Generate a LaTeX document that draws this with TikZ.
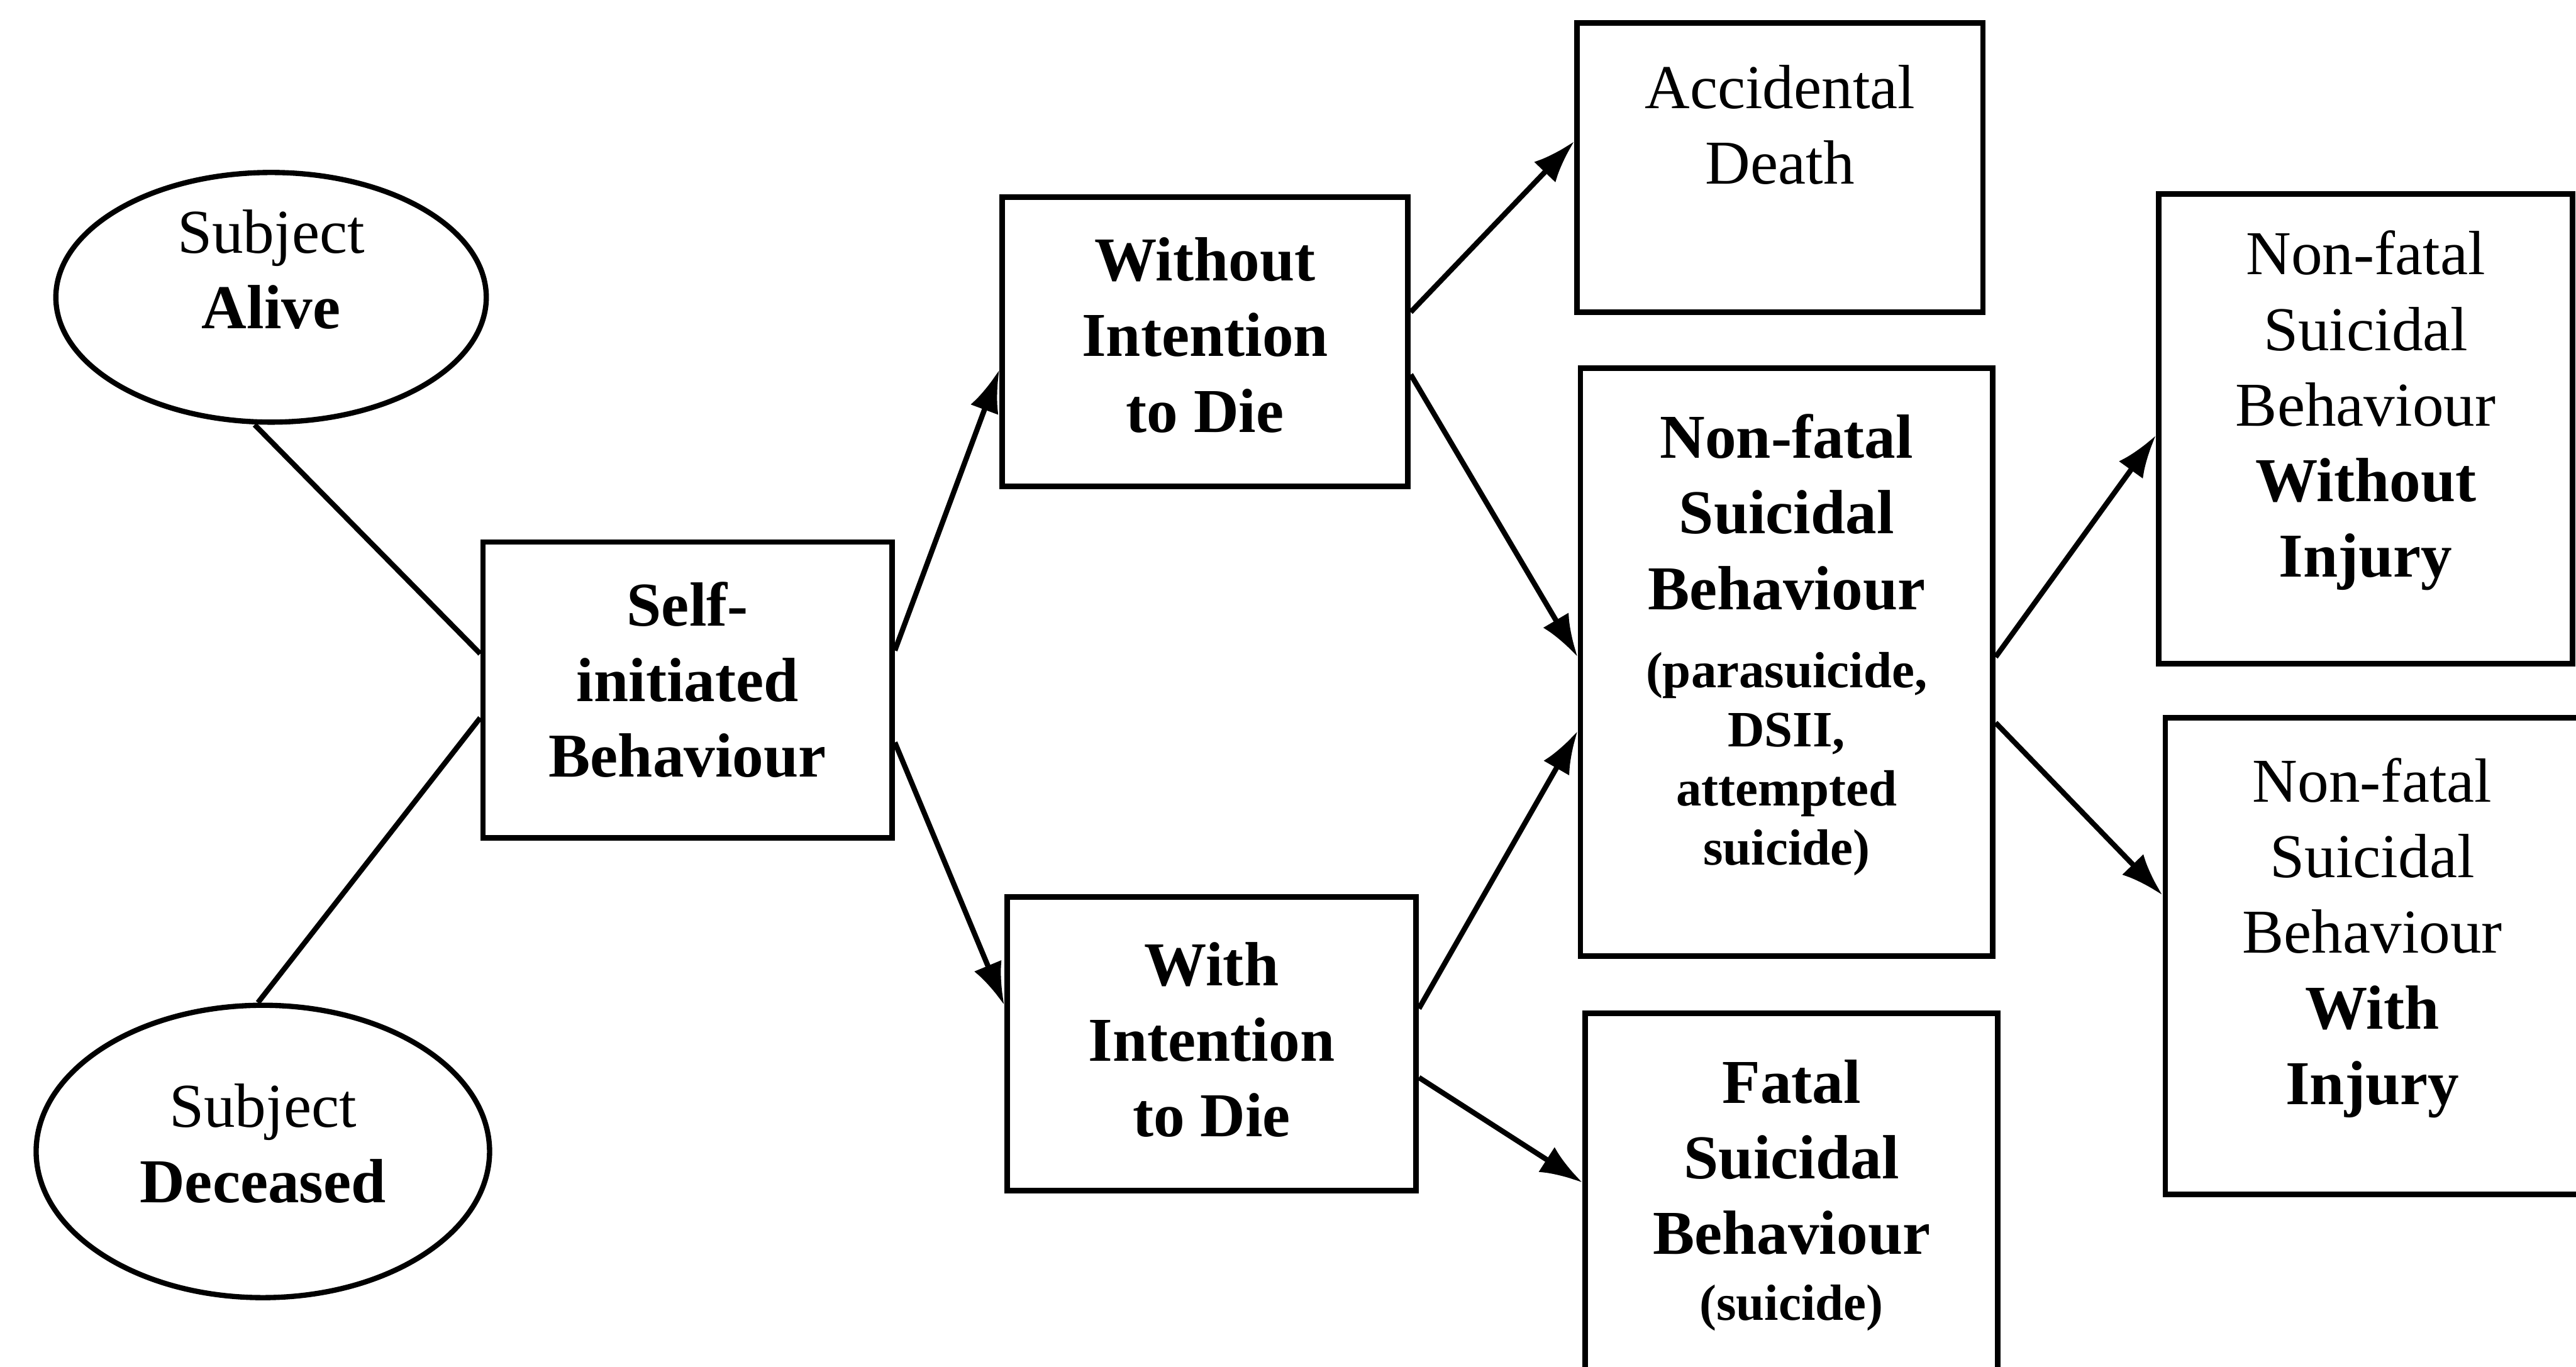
\documentclass[tikz,border=0pt]{standalone}
\usepackage{fontspec}
\setmainfont{Liberation Serif}
\usetikzlibrary{shapes.geometric,arrows.meta,calc}

\begin{document}
\begin{tikzpicture}[x=1pt,y=-1pt,
  every node/.style={align=center,inner sep=0pt,font=\fontsize{38}{46}\selectfont},
  oval/.style={draw,ellipse,line width=3.2pt},
  box/.style={draw,rectangle,line width=3.4pt},
  big/.style={font=\fontsize{38}{46}\selectfont\bfseries},
  small/.style={font=\fontsize{31}{36}\selectfont\bfseries},
  link/.style={line width=3.2pt},
  arr/.style={line width=3.2pt,-{Latex[length=26pt,width=18pt]}}]

\useasboundingbox (0,0) rectangle (1568,832);
\clip (0,0) rectangle (1568,832);

% ellipses on the left
\node[oval,minimum width=262pt,minimum height=152pt] (alive) at (165,181) {};
\node (alivetext) at (165,164) {Subject\\\textbf{Alive}};
\node[oval,minimum width=276pt,minimum height=178pt] (dead) at (160,701) {};
\node (deadtext) at (160,696) {Subject\\\textbf{Deceased}};

% boxes, with their texts set separately
\node[box,minimum width=249pt,minimum height=180pt] (self) at (418.5,420) {};
\node[big] (selftext) at (418.5,414) {Self-\\initiated\\Behaviour};

\node[box,minimum width=247pt,minimum height=176pt] (without) at (733.5,208) {};
\node[big] (withouttext) at (733.5,204) {Without\\Intention\\to Die};

\node[box,minimum width=249pt,minimum height=179pt] (with) at (737.5,635.5) {};
\node[big] (withtext) at (737.5,633) {With\\Intention\\to Die};

\node[box,minimum width=247pt,minimum height=176pt] (acc) at (1083.5,102) {};
\node (acctext) at (1083.5,76) {Accidental\\Death};

\node[box,minimum width=251pt,minimum height=358pt] (nfc) at (1087.5,403) {};
\node[big,anchor=north] (nfctop) at (1087.5,252) {Non-fatal\\Suicidal\\Behaviour};
\node[small,anchor=north] (nfcbottom) at (1087.5,397)
  {(parasuicide,\\DSII,\\attempted\\suicide)};

\node[box,minimum width=251pt,minimum height=250pt] (fatal) at (1090.5,742) {};
\node[big,anchor=north] (fataltop) at (1090.5,645) {Fatal\\Suicidal\\Behaviour};
\node[small,anchor=north] (fatalbottom) at (1090.5,782) {(suicide)};

\node[box,minimum width=252pt,minimum height=286pt] (nfw) at (1440,261) {};
\node (nfwtext) at (1440,250)
  {Non-fatal\\Suicidal\\Behaviour\\\textbf{Without}\\\textbf{Injury}};

\node[box,minimum width=252pt,minimum height=290pt] (nfi) at (1444,582) {};
\node (nfitext) at (1444,571)
  {Non-fatal\\Suicidal\\Behaviour\\\textbf{With}\\\textbf{Injury}};

% plain links into the first box
\draw[link] ($(alive.south)+(-10,0)$) -- ($(self.west)+(0,-22)$);
\draw[link] ($(dead.north)+(-3,0)$) -- ($(self.west)+(0,17)$);

% arrows
\draw[arr] ($(self.east)+(0,-24)$) -- ($(without.west)+(0,17)$);
\draw[arr] ($(self.east)+(0,32)$) -- ($(with.west)+(0,-23.5)$);
\draw[arr] ($(without.east)+(0,-18)$) -- ($(acc.west)+(0,-16)$);
\draw[arr] ($(without.east)+(0,20)$) -- ($(nfc.west)+(0,-3)$);
\draw[arr] ($(with.east)+(0,-21.5)$) -- ($(nfc.west)+(0,42)$);
\draw[arr] ($(with.east)+(0,20.5)$) -- ($(fatal.west)+(0,-22)$);
\draw[arr] ($(nfc.east)+(0,-3)$) -- ($(nfw.west)+(0,4)$);
\draw[arr] ($(nfc.east)+(0,37)$) -- ($(nfi.west)+(0,-37)$);
\end{tikzpicture}
\end{document}
